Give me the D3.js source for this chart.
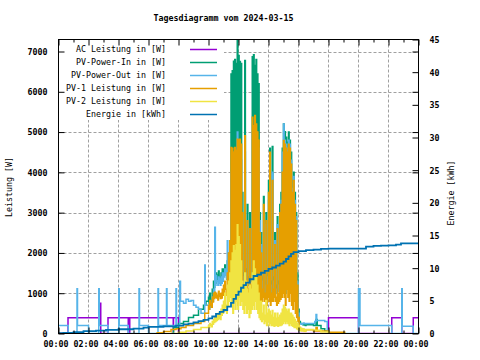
<!DOCTYPE html>
<html><head><meta charset="utf-8">
<script src="https://cdn.jsdelivr.net/npm/d3@7"></script>
<style>body{margin:0;background:#fff} svg{display:block} text{font-family:"DejaVu Sans Mono",monospace;font-size:8.3px;fill:#000}</style>
</head><body>
<svg id="c" width="480" height="360"></svg>
<script>
const titleText = "Tagesdiagramm vom 2024-03-15";
const yLabel = "Leistung [W]";
const y2Label = "Energie [kWh]";
const xTickHours = [0,2,4,6,8,10,12,14,16,18,20,22,24];
const xTickLabels = ["00:00","02:00","04:00","06:00","08:00","10:00","12:00","14:00","16:00","18:00","20:00","22:00","00:00"];
const xMinorHours = [1,3,5,7,9,11,13,15,17,19,21,23];
const yTicks = [0,1000,2000,3000,4000,5000,6000,7000];
const y2Ticks = [0,5,10,15,20,25,30,35,40,45];
const seriesNames = ["AC Leistung in [W]","PV-Power-In in [W]","PV-Power-Out in [W]","PV-1 Leistung in [W]","PV-2 Leistung in [W]","Energie in [kWh]"];
const seriesColors = ["#9400d3","#009e73","#56b4e9","#e69f00","#f0e442","#0072b2"];

// step data [time, value]
const acSteps = [["00:00",0],["00:38",390],["02:47",750],["02:49",0],["03:18",390],["04:39",0],["04:45",390],["07:39",0],["07:40",390],["08:00",0],
  ["18:00",390],["20:00",0],["22:13",390],["22:53",0],["23:39",390],["24:00",390]];
const outStepsPre = [["00:00",200],["00:39",0],["01:14",1110],["01:16",200],["02:00",0],["02:41",1110],["02:43",200],["03:18",0],["04:01",1110],["04:03",200],["04:39",0],
  ["05:22",1110],["05:24",200],["06:00",0],["06:38",1110],["06:40",200],["07:12",1110],["07:14",200],["07:50",1110],["07:52",200],["08:05",1300],["08:08",800],
  ["08:20",750],["08:30",850],["08:40",800],["08:50",820],["09:00",700],["09:10",650],["09:20",600],["09:30",500],["09:45",1700],["09:47",700]];
const outStepsPost = [["16:30",250],["17:05",300],["17:10",470],["17:13",320],["17:45",300],["17:55",80],["18:00",0],["20:00",1110],["20:06",200],["22:13",0],["22:53",1110],["22:55",180],["23:39",0],["24:00",0]];
const inStepsPre = [["07:30",0],["07:40",150],["08:00",250],["08:20",300],["08:40",400],["09:00",450],["09:20",600],["09:40",700],["09:50",800]];
const inStepsPost = [["16:30",220],["17:00",200],["17:10",350],["17:15",200],["17:30",120],["17:45",60],["18:00",20],["18:10",0]];
const pv1StepsPre = [["06:30",0],["06:35",20],["07:00",50],["07:30",100],["07:50",120],["08:10",150],["08:30",200],["09:00",250],["09:30",300],["09:45",500]];
const pv1StepsPost = [["16:30",90],["17:00",60],["17:10",150],["17:15",60],["18:00",30],["19:05",0]];
const pv2StepsPre = [["07:30",0],["08:00",30],["08:30",60],["09:00",100],["09:30",150]];
const pv2StepsPost = [["16:30",100],["17:00",80],["17:30",40],["18:00",0]];

// dense part: 5-minute slots from 10:00, high then low value in each slot
const denseStart = "10:00";
const inHi = [900,1000,800,1100,1300,1400, 1500,1450,1550,1400,1500,1600, 1600,1700,1500,1800,2000,2200,
  6440,6525,6756,6800,6700,7270, 6900,6750,6700,
  3500,1500,6775,1600,3200,1400,3000,1500,
  6870,6920,6650,6800,6440,6200,
  3000,2500,1400,3400,1300,3000,1500,3800,4600,1300,4640,1400,2500,1200,2900,1300,3200,3500,4600,
  5200,5010,4870,4750,5000,4800,4500,3800,4000,3500,3000,1500,
  600,300,250,240,230,220];
const inLo = [750,850,700,950,1150,1250, 1350,1300,1400,1250,1350,1450, 1450,1500,1350,1550,1700,1800,
  1200,900,1500,1100,1300,1000,1400,1200,1500,
  1200,1200,1300,1300,1200,1200,1300,1300,
  1500,1200,1600,1400,1300,1100,
  1000,1000,1100,1000,1050,1000,1100,1000,1000,1050,1100,1000,1000,1000,1050,1100,1200,1300,1400,
  1300,1000,1500,1200,1100,1400,1000,900,1100,800,700,500,
  300,250,230,220,210,200];
const outHi = [700,800,750,900,1100,2640, 1440,1310,1400,1350,1400,1500, 1500,1600,1550,2300,2000,2300,
  4000,4500,4200,4500,4400,5000, 4600,4500,4300,
  3000,1400,4500,1500,2800,1300,2600,1400,
  5000,5000,5100,5000,4800,4600,
  2800,2200,1300,3000,1200,2700,1400,3300,4200,1200,4000,1300,2300,1100,2700,1200,3000,3300,4500,
  5200,4800,4700,4600,4800,4700,4300,3600,3900,3300,2900,1300,
  500,250,240,250,260,250];
const outLo = [600,650,650,800,950,1200, 1300,1200,1250,1200,1250,1300, 1400,1450,1350,1500,1600,1700,
  1200,900,1500,1100,1300,1000,1400,1200,1500,
  1200,1200,1300,1300,1200,1200,1300,1300,
  1500,1200,1600,1400,1300,1100,
  1000,1000,1100,1000,1050,1000,1100,1000,1000,1050,1100,1000,1000,1000,1050,1100,1200,1300,1400,
  1300,1000,1500,1200,1100,1400,1000,900,1100,800,700,500,
  250,240,230,240,250,240];
const pv1Hi = [700,820,750,900,1000,1025, 1000,950,1050,985,1000,1100, 1200,1300,1100,1500,2000,2300,
  4620,4600,4500,4620,4550,4820, 4800,4820,4700,
  3000,1200,4910,1300,2800,1100,2600,1200,
  5370,5160,5410,5200,5000,4800,
  2500,2000,1100,3200,1000,2800,1200,3500,4500,1000,3800,1100,2200,900,2600,1000,3000,3200,4000,
  4790,4700,4600,4500,4700,4600,4200,3500,3800,3200,2800,1200,
  400,150,120,100,100,90];
const pv1Lo = [600,700,650,780,870,900, 880,830,920,870,880,950, 1000,1100,950,1200,1400,1500,
  900,600,1100,800,1000,700,1000,900,1100,
  900,1000,1000,1000,900,900,1000,1000,
  1100,900,1200,1000,900,800,
  700,800,900,800,850,700,900,800,700,800,800,900,800,700,750,800,850,900,1000,
  900,700,1100,900,800,1000,700,600,800,500,400,300,
  150,110,100,90,85,80];
const pv2Hi = [200,250,220,300,350,400, 400,450,500,450,600,700, 800,1000,700,1200,1300,1500,
  1800,2000,2180,2060,2200,2700, 2400,2200,1800,
  1300,1200,1500,1300,1100,1000,1200,1100,
  1500,1800,1600,1400,1200,1000,
  800,800,500,700,450,820,500,600,550,450,570,400,500,380,500,400,450,500,600,
  700,650,600,550,600,500,500,450,400,350,300,250,
  200,150,130,120,110,100];
const pv2Lo = [150,200,170,230,270,300, 320,350,380,350,450,500, 550,650,500,700,800,900,
  700,500,900,600,800,600,900,700,800,
  600,500,700,500,600,400,500,600,
  700,600,800,600,500,400,
  350,300,350,250,300,200,300,200,250,200,200,180,200,200,180,200,200,220,250,
  300,250,300,250,200,250,200,180,150,150,120,100,
  80,70,60,60,50,50];

const energySteps = [["00:00",0.05],["00:20",0.1],["01:00",0.2],["01:40",0.35],["02:30",0.45],["03:10",0.55],["04:00",0.65],["05:00",0.75],["05:40",0.9],["06:00",1.0],
  ["07:00",1.1],["07:50",1.2],["08:20",1.4],["08:40",1.5],["09:00",1.7],["09:20",1.9],["09:40",2.1],["10:00",2.3],["10:15",2.6],["10:30",3.0],["10:45",3.3],
  ["11:00",3.6],["11:15",4.1],["11:30",4.7],["11:40",5.3],["11:50",5.9],["12:00",6.4],["12:10",7.0],["12:20",7.4],["12:30",7.8],["12:45",8.3],["13:00",8.8],
  ["13:15",9.0],["13:30",9.3],["13:45",9.6],["14:00",9.9],["14:15",10.1],["14:30",10.4],["14:45",10.7],["15:00",11.0],["15:10",11.4],["15:20",11.8],["15:30",12.2],
  ["15:40",12.45],["16:00",12.6],["16:30",12.75],["17:00",12.85],["17:30",12.95],["18:00",13.0],["20:30",13.3],["21:00",13.4],["21:30",13.45],["22:00",13.5],
  ["22:30",13.6],["22:50",13.8],["24:00",13.8]];

// helpers
const hrs = s => { const [h,m] = s.split(":").map(Number); return h + m/60; };
const steps = arr => arr.map(([t,v]) => [hrs(t), v]);
function dense(hi, lo) {
  const t0 = hrs(denseStart), pts = [];
  hi.forEach((h,i) => { const t = t0 + i*5/60; pts.push([t, h]); pts.push([t + 2.5/60, lo[i]]); });
  return pts;
}

const svg = d3.select("#c");
const L = 58.5, R = 418.5, T = 39.5, B = 333.5;
const x = d3.scaleLinear().domain([0,24]).range([L,R]);
const y = d3.scaleLinear().domain([0,7298]).range([B,T]);
const y2 = d3.scaleLinear().domain([0,45]).range([B,T]);

// grid
const g = svg.append("g").attr("stroke","#a0a0a0").attr("stroke-dasharray","3,2").attr("stroke-width",1);
yTicks.filter(v => v > 0).forEach(v => g.append("line").attr("x1",L).attr("x2",R).attr("y1",Math.round(y(v))+0.5).attr("y2",Math.round(y(v))+0.5));
xTickHours.filter(h => h > 0 && h < 24).forEach(h => g.append("line").attr("y1",T).attr("y2",B).attr("x1",x(h)).attr("x2",x(h)));

// opaque key background
svg.append("rect").attr("x",L).attr("y",T).attr("width",224-L).attr("height",120-T).attr("fill","#fff");

// series
svg.append("clipPath").attr("id","pc").append("rect").attr("x",L).attr("y",T).attr("width",R-L).attr("height",B-T);
const lineW = d3.line().x(d => x(d[0])).y(d => y(d[1])).curve(d3.curveStepAfter);
const lineE = d3.line().x(d => x(d[0])).y(d => y2(d[1])).curve(d3.curveStepAfter);
const seriesData = [
  steps(acSteps),
  [...steps(inStepsPre), ...dense(inHi, inLo), ...steps(inStepsPost)],
  [...steps(outStepsPre), ...dense(outHi, outLo), ...steps(outStepsPost)],
  [...steps(pv1StepsPre), ...dense(pv1Hi, pv1Lo), ...steps(pv1StepsPost)],
  [...steps(pv2StepsPre), ...dense(pv2Hi, pv2Lo), ...steps(pv2StepsPost)]
];
const sg = svg.append("g").attr("clip-path","url(#pc)");
seriesData.forEach((d,i) => sg.append("path").attr("d", lineW(d)).attr("fill","none").attr("stroke",seriesColors[i]).attr("stroke-width",1.5));
sg.append("path").attr("d", lineE(steps(energySteps))).attr("fill","none").attr("stroke",seriesColors[5]).attr("stroke-width",1.8);

// border
svg.append("rect").attr("x",L).attr("y",T).attr("width",R-L).attr("height",B-T).attr("fill","none").attr("stroke","#000").attr("stroke-width",1);

// axes
const style = sel => { sel.select(".domain").remove(); sel.selectAll("line").attr("stroke","#000"); };
const lbl = sel => sel.selectAll("text").style("font-family","DejaVu Sans Mono").style("font-size","8.3px").style("font-weight","bold");
svg.append("g").attr("transform",`translate(${L},0)`).call(d3.axisLeft(y).tickValues(yTicks).tickSize(-6).tickPadding(11).tickFormat(d3.format("d"))).call(style).call(lbl)
  .selectAll("text").attr("dy","0.35em");
svg.append("g").attr("transform",`translate(${R},0)`).call(d3.axisRight(y).tickValues(yTicks.filter(v=>v>0)).tickSize(-6).tickFormat("")).call(style);
svg.append("g").attr("transform",`translate(${R},0)`).call(d3.axisRight(y2).tickValues(y2Ticks).tickSize(-6).tickPadding(11).tickFormat(d3.format("d"))).call(style).call(lbl)
  .selectAll("text").attr("dy","0.35em");
svg.append("g").attr("transform",`translate(0,${B})`).call(d3.axisBottom(x).tickValues(xTickHours).tickSize(-6).tickPadding(8).tickFormat((d,i) => xTickLabels[i])).call(style).call(lbl)
  .selectAll("text").attr("dx","-3");
svg.append("g").attr("transform",`translate(0,${B})`).call(d3.axisBottom(x).tickValues(xMinorHours).tickSize(-3).tickFormat("")).call(style);
svg.append("g").attr("transform",`translate(0,${T})`).call(d3.axisTop(x).tickValues(xTickHours).tickSize(-6).tickFormat("")).call(style);
svg.append("g").attr("transform",`translate(0,${T})`).call(d3.axisTop(x).tickValues(xMinorHours).tickSize(-3).tickFormat("")).call(style);

// titles
svg.append("text").attr("x",223.5).attr("y",20.5).attr("text-anchor","middle").style("font-weight","bold").text(titleText);
svg.append("text").attr("transform","translate(12,187) rotate(-90)").attr("text-anchor","middle").text(yLabel);
svg.append("text").attr("transform","translate(454,193) rotate(-90)").attr("text-anchor","middle").text(y2Label);

// legend
seriesNames.forEach((n,i) => {
  const yy = 49.5 + 13*i;
  svg.append("text").attr("x",166).attr("y",yy+2.5).attr("text-anchor","end").text(n);
  svg.append("line").attr("x1",190).attr("x2",217).attr("y1",yy).attr("y2",yy).attr("stroke",seriesColors[i]).attr("stroke-width",1.5);
});
</script>
</body></html>
